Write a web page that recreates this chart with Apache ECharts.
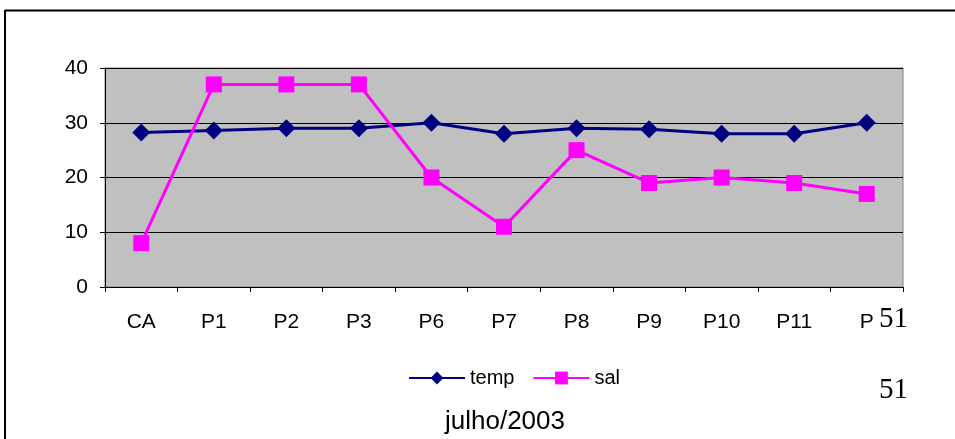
<!DOCTYPE html>
<html><head><meta charset="utf-8">
<script src="https://cdn.jsdelivr.net/npm/echarts@6/dist/echarts.min.js"></script>
<style>html,body{margin:0;padding:0;background:#fff}#c{width:955px;height:439px}</style>
</head><body><div id="c"></div>
<script>
const categories = ['CA','P1','P2','P3','P6','P7','P8','P9','P10','P11','P'];
const temp = [28.2, 28.6, 29, 29, 30, 28, 29, 28.8, 28, 28, 30];
const sal = [8, 37, 37, 37, 20, 11, 25, 19, 20, 19, 17];
const yTicks = [0, 10, 20, 30, 40];
const titleText = 'julho/2003';
const sideNote = '51';

const chart = echarts.init(document.getElementById('c'));
const F = 'Liberation Sans, Arial, sans-serif';
chart.setOption({
  animation: false,
  title: {text: titleText, left: 440, top: 404, textStyle: {fontFamily: F, fontSize: 26, fontWeight: 'normal', color: '#000'}},
  legend: {
    top: 363, left: 403, itemWidth: 56, itemHeight: 16, itemGap: 18,
    textStyle: {fontFamily: F, fontSize: 20, color: '#000'},
    data: ['temp', 'sal']
  },
  grid: {left: 105, right: 52, top: 68, bottom: 152, backgroundColor: '#c0c0c0', show: true, borderWidth: 1, borderColor: '#808080'},
  xAxis: {
    type: 'category', data: categories, boundaryGap: true,
    axisLine: {lineStyle: {color: '#000', width: 1}},
    axisTick: {show: true, length: 5, lineStyle: {color: '#000'}},
    axisLabel: {fontFamily: F, fontSize: 21, color: '#000', margin: 25}
  },
  yAxis: {
    type: 'value', min: yTicks[0], max: yTicks[yTicks.length - 1], interval: 10,
    axisLine: {show: true, lineStyle: {color: '#000'}},
    axisTick: {show: true, length: 5, lineStyle: {color: '#000'}},
    splitLine: {lineStyle: {color: '#000', width: 1}},
    axisLabel: {fontFamily: F, fontSize: 21, color: '#000', margin: 17}
  },
  series: [
    {name: 'temp', type: 'line', data: temp, color: '#000080', symbol: 'diamond', symbolSize: 18,
     lineStyle: {width: 3, color: '#000080'}, itemStyle: {color: '#000080'}},
    {name: 'sal', type: 'line', data: sal, color: '#ff00ff', symbol: 'rect', symbolSize: 16,
     lineStyle: {width: 3, color: '#ff00ff'}, itemStyle: {color: '#ff00ff'}}
  ],
  graphic: [
    {type: 'line', shape: {x1: 5, y1: 10.5, x2: 955, y2: 10.5}, style: {stroke: '#000', lineWidth: 2}},
    {type: 'line', shape: {x1: 5, y1: 10, x2: 5, y2: 439}, style: {stroke: '#000', lineWidth: 2}},
    {type: 'text', left: 879, top: 305, style: {text: sideNote, font: '29px "Liberation Serif", "Times New Roman", serif', fill: '#000'}},
    {type: 'text', left: 879, top: 376, style: {text: sideNote, font: '29px "Liberation Serif", "Times New Roman", serif', fill: '#000'}}
  ]
});
</script></body></html>
